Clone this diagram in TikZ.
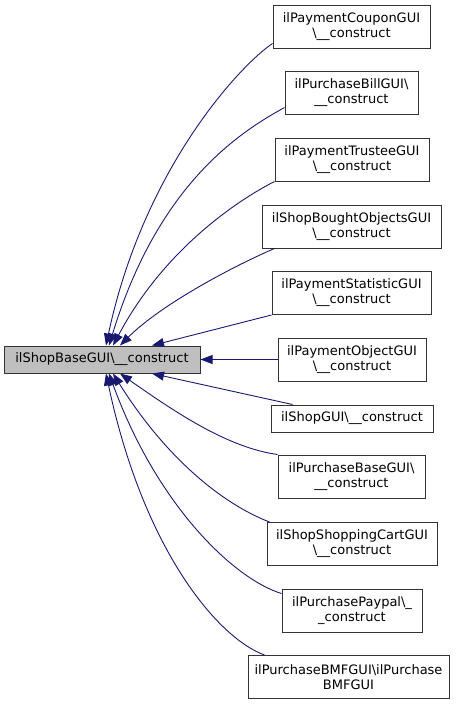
\documentclass[tikz,border=0pt]{standalone}
\usepackage{fontspec}
\setmainfont{DejaVu Sans}
\usepackage{xcolor}
\usepackage{tikz}
\usetikzlibrary{arrows.meta}
\definecolor{edgeblue}{HTML}{191970}
\definecolor{basegray}{HTML}{BFBFBF}
\newcommand{\bsl}{\textbackslash}
\newcommand{\uu}{\_\_}

\begin{document}
\begin{tikzpicture}[x=1pt, y=1pt,
    caller/.style={draw=black!80, line width=1pt, fill=white, align=center, inner sep=0pt, minimum height=43pt, font=\fontsize{13}{15}\selectfont},
    base/.style={caller, fill=basegray, minimum height=27pt, minimum width=196pt},
    call/.style={draw=edgeblue, line width=0.9pt, -{Triangle[length=12pt,width=9pt]}}
]
\useasboundingbox (0,0) rectangle (461,-704);

\node[base] (b) at (102,-359.5) {ilShopBaseGUI\bsl\uu construct};

\node[caller, minimum width=157pt] (c1) at (351.5,-26.5) {ilPaymentCouponGUI\\\bsl\uu construct};
\node[caller, minimum width=133pt] (c2) at (351.5,-92.5) {ilPurchaseBillGUI\bsl\\\uu construct};
\node[caller, minimum width=154pt] (c3) at (352,-159.5) {ilPaymentTrusteeGUI\\\bsl\uu construct};
\node[caller, minimum width=179pt] (c4) at (351.5,-226.5) {ilShopBoughtObjectsGUI\\\bsl\uu construct};
\node[caller, minimum width=159pt] (c5) at (351.5,-293) {ilPaymentStatisticGUI\\\bsl\uu construct};
\node[caller, minimum width=148pt] (c6) at (352,-359.5) {ilPaymentObjectGUI\\\bsl\uu construct};
\node[caller, minimum width=162pt, minimum height=27pt] (c7) at (352,-418.5) {ilShopGUI\bsl\uu construct};
\node[caller, minimum width=147pt] (c8) at (351.5,-476.5) {ilPurchaseBaseGUI\bsl\\\uu construct};
\node[caller, minimum width=170pt] (c9) at (352,-544) {ilShopShoppingCartGUI\\\bsl\uu construct};
\node[caller, minimum width=140pt] (c10) at (352,-610.5) {ilPurchasePaypal\bsl\_\\\_construct};
\node[caller, minimum width=201pt] (c11) at (348.5,-677) {ilPurchaseBMFGUI\bsl ilPurchase\\BMFGUI};

\draw[call] ([yshift=5pt]c1.south west) .. controls +(214:40) and +(78:180) .. ([xshift=4pt]b.north);
\draw[call] ([yshift=7pt]c2.south west) .. controls +(209:50) and +(73:170) .. ([xshift=7pt]b.north);
\draw[call] (c3.south west) .. controls +(207:40) and +(62:110) .. ([xshift=11pt]b.north);
\draw[call] ([xshift=13pt]c4.south west) .. controls +(203:40) and +(45:60) .. ([xshift=18pt]b.north);
\draw[call] (c5.south west) -- ([xshift=50pt]b.north);
\draw[call] (c6.west) -- (b.east);
\draw[call] ([xshift=22pt]c7.north west) -- ([xshift=50pt]b.south);
\draw[call] (c8.north west) .. controls +(172:50) and +(-35:70) .. ([xshift=18pt]b.south);
\draw[call] ([xshift=3pt]c9.north west) .. controls +(159:50) and +(-58:100) .. ([xshift=11pt]b.south);
\draw[call] ([yshift=-5pt]c10.north west) .. controls +(163:50) and +(-70:140) .. ([xshift=7pt]b.south);
\draw[call] ([xshift=17pt]c11.north west) .. controls +(160:50) and +(-78:180) .. ([xshift=4pt]b.south);
\end{tikzpicture}
\end{document}
